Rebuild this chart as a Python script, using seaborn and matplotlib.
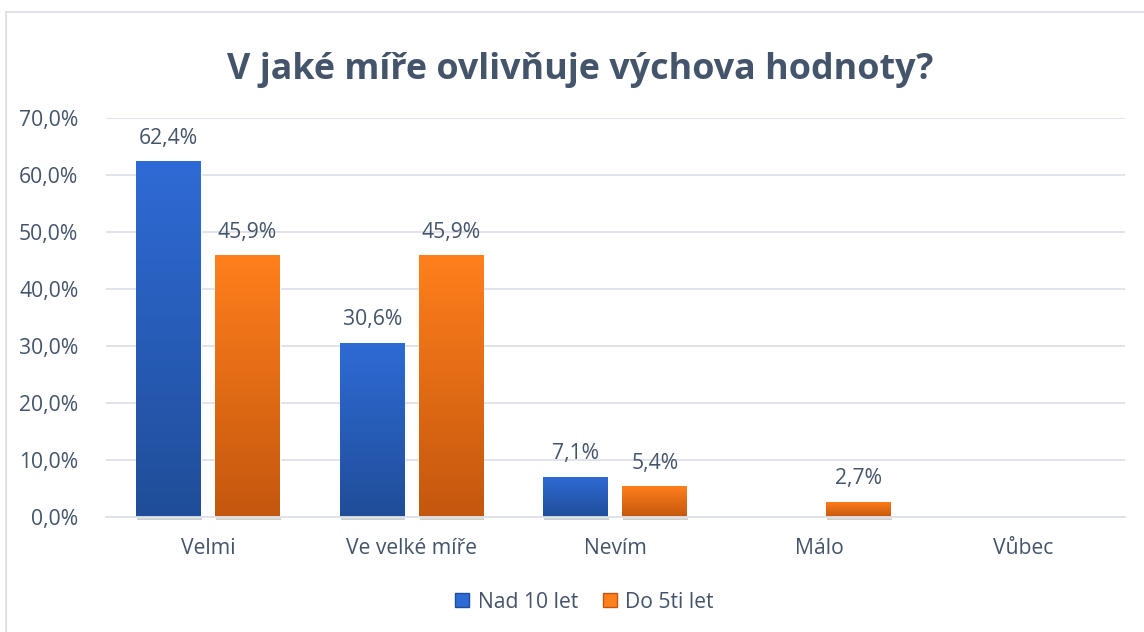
import numpy as np
import pandas as pd
import matplotlib.pyplot as plt
import seaborn as sns
from matplotlib.patches import Rectangle, Patch
from matplotlib.colors import LinearSegmentedColormap
from matplotlib import patheffects as pe

sns.set_theme(style="white")
plt.rcParams["font.family"] = ["Open Sans", "DejaVu Sans"]

# data
categories = ["Velmi", "Ve velké míře", "Nevím", "Málo", "Vůbec"]
series = ["Nad 10 let", "Do 5ti let"]
nad_10_let = [62.4, 30.6, 7.1, 0.0, 0.0]
do_5ti_let = [45.9, 45.9, 5.4, 2.7, 0.0]
y_ticks = [0, 10, 20, 30, 40, 50, 60, 70]

df = pd.DataFrame({
    "kategorie": categories * 2,
    "skupina": [series[0]] * len(categories) + [series[1]] * len(categories),
    "hodnota": nad_10_let + do_5ti_let,
})

TEXT = "#44546A"
GRID = "#DDE2E8"
FS = 15.2
grads = {
    series[0]: ("#2F6BD6", "#1F4D98"),
    series[1]: ("#FF7F1C", "#C4570E"),
}

fig = plt.figure(figsize=(11.44, 6.32), dpi=100)
ax = fig.add_axes([0.0927, 0.182, 0.8903, 0.631])

sns.barplot(data=df, x="kategorie", y="hodnota", hue="skupina",
            order=categories, hue_order=series, width=0.775, gap=0.18,
            palette=[grads[s][0] for s in series], ax=ax, legend=False)

# gradient fill + labels
for container, name in zip(ax.containers, series):
    top_c, bot_c = grads[name]
    cmap = LinearSegmentedColormap.from_list(name, [bot_c, top_c])
    for bar in container:
        h = bar.get_height()
        if h <= 0:
            bar.set_visible(False)
            continue
        x0, w = bar.get_x(), bar.get_width()
        bar.set_clip_on(False)
        bar.set_path_effects([pe.SimplePatchShadow(offset=(0.6, -2.2), alpha=0.22),
                              pe.Normal()])
        grad = np.linspace(0, 1, 256).reshape(-1, 1)
        im = ax.imshow(grad, cmap=cmap, origin="lower", aspect="auto",
                       extent=[x0, x0 + w, 0, h], zorder=bar.get_zorder() + 0.1)
        im.set_clip_path(bar)
        ax.annotate(f"{h:.1f}%".replace(".", ","), (x0 + w / 2, h),
                    xytext=(0, 9), textcoords="offset points",
                    ha="center", va="bottom", fontsize=FS, color=TEXT)

ax.set_xlim(-0.5, len(categories) - 0.5)
ax.set_ylim(0, 70)
ax.set_yticks(y_ticks)
ax.set_yticklabels([f"{t:.1f}%".replace(".", ",") for t in y_ticks])
ax.grid(axis="y", color=GRID, linewidth=1.3)
ax.set_axisbelow(True)
for s in ["top", "right", "left"]:
    ax.spines[s].set_visible(False)
ax.spines["bottom"].set_color(GRID)
ax.spines["bottom"].set_linewidth(1.3)
ax.set_xlabel("")
ax.set_ylabel("")
ax.tick_params(axis="both", length=0, labelsize=FS, labelcolor=TEXT)
ax.tick_params(axis="x", pad=15)
ax.tick_params(axis="y", pad=20)

fig.text(0.507, 0.889, "V jaké míře ovlivňuje výchova hodnoty?",
         ha="center", va="center", fontsize=25.8, fontweight="bold", color=TEXT)

handles = [Patch(facecolor=grads[s][0], edgecolor=grads[s][1]) for s in series]
fig.legend(handles, series, loc="center", bbox_to_anchor=(0.511, 0.047), ncol=2,
           frameon=False, fontsize=FS, labelcolor=TEXT, handlelength=0.65,
           handleheight=0.65, handletextpad=0.4, columnspacing=1.2)

# chart border
fig.patches.append(Rectangle((6 / 1144, -0.01), 1.0, 1 - 12 / 632 + 0.01,
                             transform=fig.transFigure, fill=False,
                             edgecolor="#D9DDE3", linewidth=1.2))

fig.savefig("out.png", dpi=100)
